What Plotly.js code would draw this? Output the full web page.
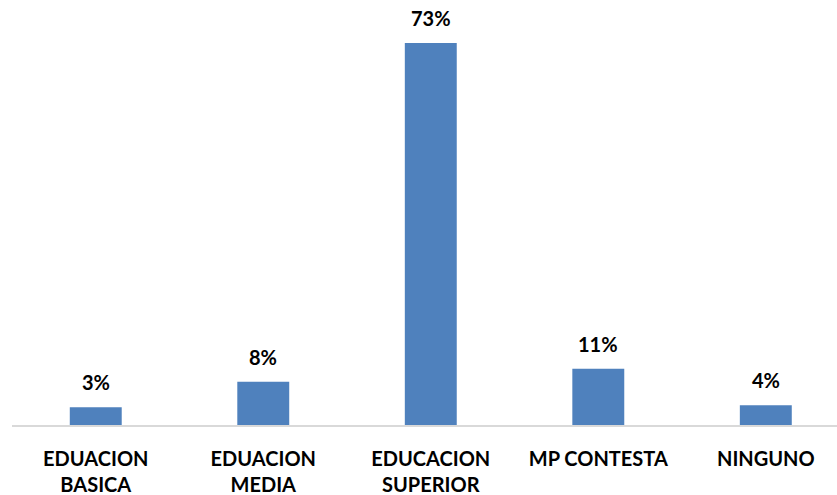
<!DOCTYPE html>
<html>
<head>
<meta charset="utf-8">
<script src="https://cdn.plot.ly/plotly-3.0.1.min.js"></script>
<style>html,body{margin:0;padding:0;background:#fff;}#chart{width:837px;height:495px;}</style>
</head>
<body>
<div id="chart"></div>
<script>
var categories = ["EDUACION<br>BASICA", "EDUACION<br>MEDIA", "EDUCACION<br>SUPERIOR", "MP CONTESTA", "NINGUNO"];
var values = [3.4, 8.3, 73.2, 10.8, 3.8];
var labels = values.map(function (v) { return Math.round(v) + "%"; });

var FONT = "Lato, 'Open Sans', sans-serif";

var trace = {
  type: "bar",
  x: categories,
  y: values,
  marker: {color: "#4f81bd"},
  hoverinfo: "none"
};

var annotations = categories.map(function (c, i) {
  return {
    x: c, y: values[i], xref: "x", yref: "y",
    text: labels[i], showarrow: false,
    yanchor: "bottom", yshift: 11,
    font: {family: FONT, size: 20, color: "#000", weight: "bold"}
  };
});

var layout = {
  width: 837,
  height: 495,
  margin: {l: 12, r: 0, t: 20, b: 70},
  paper_bgcolor: "#fff",
  plot_bgcolor: "#fff",
  bargap: 0.69,
  showlegend: false,
  font: {family: FONT, size: 20, color: "#000"},
  annotations: annotations,
  xaxis: {
    range: [-0.5, 4.425],
    showline: true,
    linecolor: "#d9d9d9",
    linewidth: 1.5,
    ticks: "",
    tickfont: {family: FONT, size: 20, color: "#000", weight: "bold"},
    ticklabelstandoff: 15,
    showgrid: false,
    zeroline: false
  },
  yaxis: {
    range: [0, 77.6],
    visible: false,
    showgrid: false,
    zeroline: false
  }
};

Plotly.newPlot("chart", [trace], layout, {displayModeBar: false, staticPlot: true});
</script>
</body>
</html>
